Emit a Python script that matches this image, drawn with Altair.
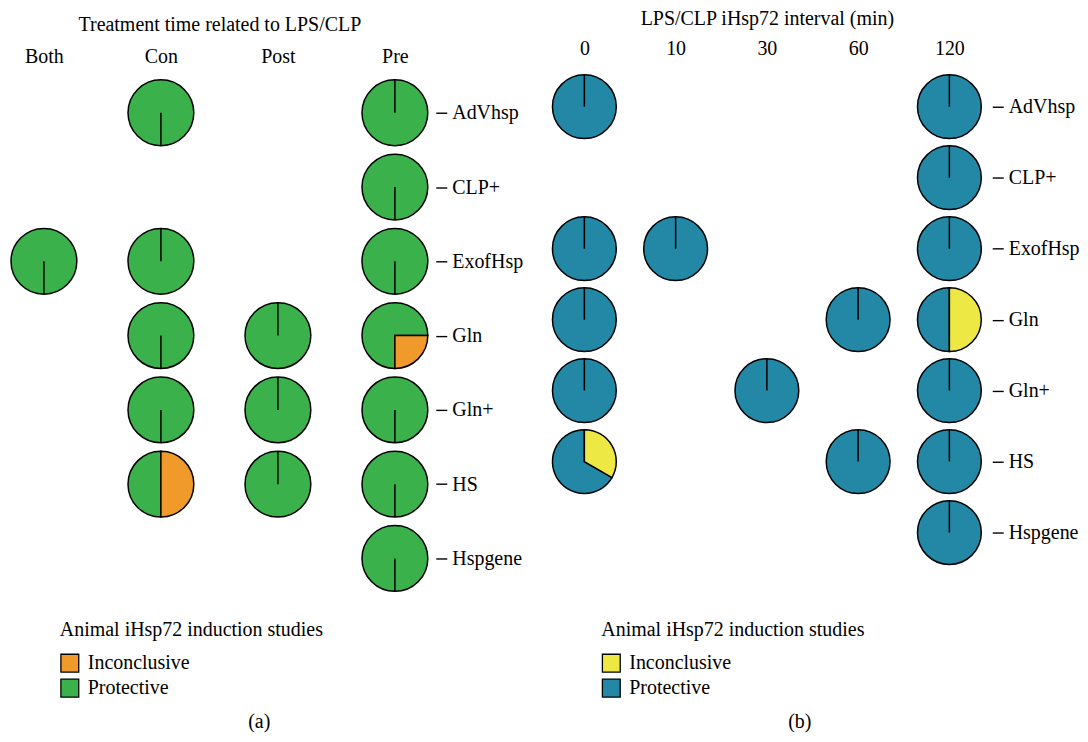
import altair as alt
import pandas as pd

rows = ["AdVhsp", "CLP+", "ExofHsp", "Gln", "Gln+", "HS", "Hspgene"]
outcomes = ["Inconclusive", "Protective"]

# Panel (a): treatment time related to LPS/CLP
a_cols = ["Both", "Con", "Post", "Pre"]
a_pie_col = ["Con", "Pre", "Pre", "Both", "Con", "Pre", "Con", "Post", "Pre",
             "Con", "Post", "Pre", "Con", "Post", "Pre", "Pre"]
a_pie_row = ["AdVhsp", "AdVhsp", "CLP+", "ExofHsp", "ExofHsp", "ExofHsp", "Gln", "Gln", "Gln",
             "Gln+", "Gln+", "Gln+", "HS", "HS", "HS", "Hspgene"]
a_inconclusive = [0, 0, 0, 0, 0, 0, 0, 0, 0.25, 0, 0, 0, 0.5, 0, 0, 0]
a_offset = [0.5, 0, 0.5, 0.5, 0, 0.5, 0.5, 0, 0.25, 0.5, 0, 0.5, 0, 0, 0.5, 0.5]
a_colors = ["#F09A2B", "#3BB14B"]

# Panel (b): LPS/CLP iHsp72 interval (min)
b_cols = ["0", "10", "30", "60", "120"]
b_pie_col = ["0", "120", "120", "0", "10", "120", "0", "60", "120",
             "0", "30", "120", "0", "60", "120", "120"]
b_pie_row = ["AdVhsp", "AdVhsp", "CLP+", "ExofHsp", "ExofHsp", "ExofHsp", "Gln", "Gln", "Gln",
             "Gln+", "Gln+", "Gln+", "HS", "HS", "HS", "Hspgene"]
b_inconclusive = [0, 0, 0, 0, 0, 0, 0, 0, 0.5, 0, 0, 0, 1 / 3, 0, 0, 0]
b_offset = [0] * 16
b_colors = ["#EDE843", "#2387A6"]


def slices(cols, rws, inc, off):
    recs = []
    for c, r, i, o in zip(cols, rws, inc, off):
        recs.append({"col": c, "row": r, "outcome": "Protective", "t0": o + i, "t1": o + 1})
        recs.append({"col": c, "row": r, "outcome": "Inconclusive", "t0": o, "t1": o + i})
    return pd.DataFrame(recs)


FS = 20
FONT = "Liberation Serif"


def panel(df, cols, title, colors, width, height, xpad, ypad, radius,
          lab_pad, title_pad, axis_off, leg_x, leg_y, caption, cap_dx, cap_off):
    color = alt.Color(
        "outcome:N",
        scale=alt.Scale(domain=outcomes, range=colors),
        legend=alt.Legend(
            title="Animal iHsp72 induction studies", orient="none",
            legendX=leg_x, legendY=leg_y, direction="vertical",
            symbolType="square", symbolSize=320, symbolStrokeColor="black",
            symbolStrokeWidth=1.3, symbolOpacity=1,
            labelFontSize=FS, labelColor="black", labelOffset=8, labelFont=FONT,
            titleFontSize=FS, titleColor="black", titleFontWeight="normal",
            titleFont=FONT, titlePadding=13, rowPadding=1, titleLimit=500, labelLimit=300,
        ),
    )
    x = alt.X(
        "col:N", sort=cols, scale=alt.Scale(domain=cols, padding=xpad),
        axis=alt.Axis(orient="top", title=title, ticks=False, domain=False, grid=False,
                      labelAngle=0, labelFontSize=FS, labelColor="black",
                      labelBaseline="alphabetic", labelPadding=lab_pad,
                      labelFont=FONT,
                      titleFontSize=FS, titleFontWeight="normal", titleColor="black",
                      titleFont=FONT, titlePadding=title_pad),
    )
    y = alt.Y(
        "row:N", sort=rows, scale=alt.Scale(domain=rows, padding=ypad),
        axis=alt.Axis(orient="right", title=None, domain=False, grid=False,
                      ticks=True, tickSize=11, tickWidth=1.4, tickColor="black",
                      labelFontSize=FS, labelColor="black", labelPadding=5,
                      labelFont=FONT, offset=axis_off),
    )
    base = (
        alt.Chart(df)
        .transform_calculate(a0="datum.t0 * 2 * PI", a1="datum.t1 * 2 * PI")
        .mark_arc(radius=radius, stroke="black", strokeWidth=1.5)
        .encode(x=x, y=y,
                theta=alt.Theta("a0:Q", scale=None), theta2="a1:Q",
                color=color)
    )
    prot = base.transform_filter("datum.outcome == 'Protective'")
    inc = base.transform_filter("datum.outcome == 'Inconclusive'")
    return alt.layer(prot, inc).properties(
        width=width, height=height,
        title=alt.TitleParams(caption, orient="bottom", anchor="middle", frame="group",
                              fontSize=FS, fontWeight="normal", color="black",
                              font=FONT, dx=cap_dx, offset=cap_off),
    )


df_a = slices(a_pie_col, a_pie_row, a_inconclusive, a_offset)
df_b = slices(b_pie_col, b_pie_row, b_inconclusive, b_offset)

pa = panel(df_a, a_cols, "Treatment time related to LPS/CLP", a_colors,
           width=424, height=515, xpad=0.307, ypad=0.457, radius=33,
           lab_pad=16, title_pad=12, axis_off=5, leg_x=52, leg_y=543,
           caption="(a)", cap_dx=40, cap_off=12)
pb = panel(df_b, b_cols, "LPS/CLP iHsp72 interval (min)", b_colors,
           width=444, height=483, xpad=0.426, ypad=0.393, radius=32,
           lab_pad=24, title_pad=10, axis_off=4, leg_x=56, leg_y=543,
           caption="(b)", cap_dx=33, cap_off=12)

chart = (
    alt.hconcat(pa, pb, spacing=22)
    .resolve_scale(color="independent")
    .properties(padding={"top": 0, "left": 0, "right": 0, "bottom": 0})
    .configure(font=FONT)
    .configure_view(strokeWidth=0, stroke="transparent")
)

chart.save("out.html", embed_options={"renderer": "svg", "actions": False})
